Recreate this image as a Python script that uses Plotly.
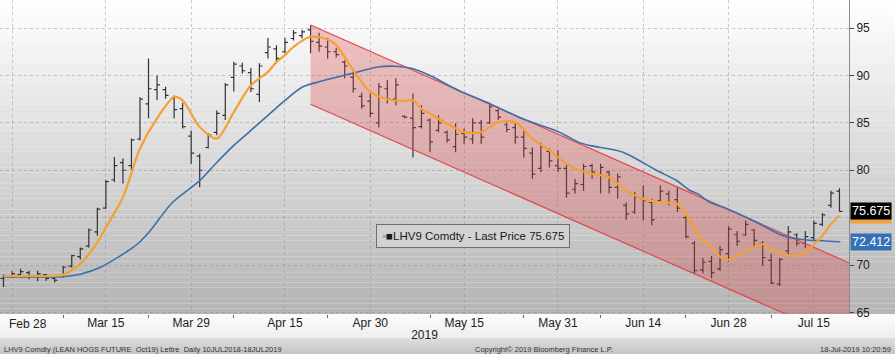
import plotly.graph_objects as go
import pandas as pd

# ---------------- data ----------------
HOLIDAYS = ["2019-04-19", "2019-05-27", "2019-07-04"]
dates = [d.strftime("%Y-%m-%d") for d in pd.bdate_range("2019-02-27", "2019-07-18")
         if d.strftime("%Y-%m-%d") not in HOLIDAYS]

open_ = [68.6, 68.8, 69.0, 69.2, 68.8, 69.0, 68.6, 68.8, 69.9, 70.9,
         72.0, 73.5, 76.0, 79.0, 80.8, 80.5, 83.3, 87.0, 88.5, 88.5,
         87.6, 86.5, 83.6, 81.5, 82.4, 84.0, 85.8, 89.8, 91.0, 90.3,
         88.0, 92.4, 92.8, 92.5, 93.9, 94.2, 94.8, 93.5, 93.0, 92.5,
         91.4, 89.8, 87.8, 87.3, 85.0, 88.6, 87.5, 85.7, 85.5, 84.6,
         85.3, 84.2, 84.0, 82.5, 83.9, 83.3, 85.0, 85.0, 86.3, 84.8,
         84.5, 83.5, 81.8, 80.2, 82.0, 80.5, 80.2, 78.0, 78.5, 80.5,
         79.5, 79.8, 78.2, 76.3, 75.6, 77.0, 76.6, 76.8, 77.5, 76.9,
         75.0, 72.3, 69.5, 70.4, 69.6, 71.2, 73.2, 73.2, 73.7, 72.3,
         70.5, 68.0, 71.5, 73.2, 72.3, 72.9, 74.3, 76.3, 77.8]
high = [69.0, 69.35, 69.6, 69.4, 69.4, 69.05, 68.75, 69.9, 71.1, 71.85,
        73.85, 76.05, 79.0, 81.4, 81.25, 83.35, 87.7, 91.8, 90.0, 88.8,
        87.9, 87.1, 84.2, 81.75, 83.9, 86.3, 89.2, 91.45, 91.35, 90.8,
        91.3, 93.95, 93.2, 93.95, 94.8, 94.8, 95.3, 94.5, 93.95, 92.9,
        91.6, 90.35, 88.2, 88.1, 89.2, 89.5, 89.7, 85.8, 88.1, 86.85,
        85.5, 85.8, 84.2, 84.95, 84.4, 85.5, 85.3, 87.05, 86.5, 85.05,
        85.05, 84.4, 82.4, 82.9, 82.3, 82.1, 80.7, 79.1, 80.7, 80.7,
        80.7, 79.95, 79.65, 76.6, 77.7, 78.4, 77.0, 78.4, 77.85, 78.2,
        75.2, 72.55, 70.75, 70.95, 72.0, 74.1, 73.6, 74.7, 73.8, 72.55,
        71.2, 70.75, 74.1, 73.35, 73.6, 74.7, 75.5, 77.85, 78.1]
low = [67.7, 68.7, 68.7, 68.5, 68.3, 68.35, 68.15, 68.7, 69.75, 70.6,
       71.85, 73.1, 75.95, 78.75, 78.6, 79.95, 83.15, 85.5, 87.4, 87.55,
       85.5, 84.4, 80.7, 78.2, 82.3, 83.7, 85.3, 88.3, 90.2, 88.25,
       87.2, 91.8, 91.3, 92.35, 93.7, 93.9, 92.35, 92.5, 91.8, 91.9,
       89.7, 88.2, 86.5, 85.6, 84.5, 87.05, 86.85, 85.5, 81.35, 84.4,
       81.9, 84.0, 82.9, 81.9, 82.8, 82.8, 82.8, 84.9, 85.3, 84.0,
       82.8, 81.35, 79.1, 79.8, 80.3, 79.8, 77.1, 77.55, 77.85, 79.1,
       77.55, 77.55, 77.0, 74.75, 75.4, 74.7, 74.2, 76.6, 76.3, 75.6,
       72.8, 69.05, 69.15, 68.6, 69.4, 70.35, 72.0, 73.1, 71.8, 69.9,
       68.0, 67.8, 71.15, 72.0, 71.8, 72.6, 74.1, 76.05, 75.65]
close = [68.8, 69.1, 69.3, 68.8, 69.1, 68.6, 68.4, 69.8, 71.0, 71.7,
         73.7, 75.9, 78.8, 80.5, 80.0, 83.2, 87.5, 88.6, 89.0, 87.9,
         86.4, 84.6, 81.8, 80.0, 83.7, 86.0, 89.0, 91.2, 90.5, 88.6,
         91.0, 93.0, 91.8, 93.5, 94.5, 94.6, 93.6, 93.1, 92.5, 92.2,
         91.0, 88.6, 86.8, 86.0, 88.8, 87.5, 89.0, 85.6, 84.5, 86.0,
         83.0, 85.0, 83.2, 83.8, 83.5, 85.0, 83.5, 86.7, 85.6, 84.3,
         83.5, 82.3, 79.6, 82.5, 81.0, 80.2, 77.6, 78.6, 80.4, 79.8,
         80.3, 78.2, 79.3, 75.4, 77.2, 76.8, 74.8, 77.8, 76.6, 76.0,
         73.0, 69.4, 70.3, 69.2, 71.6, 73.8, 72.5, 74.3, 72.6, 70.8,
         68.1, 70.6, 73.5, 72.3, 73.0, 74.4, 75.3, 77.6, 75.675]

# moving averages (trading-day position, value)
ma_fast_pos = [0, 3, 6, 7, 9, 11, 12, 14, 16, 18, 20, 21, 23, 25, 27, 29, 31, 32, 33, 34,
               36, 38, 39, 41, 43, 45, 47, 48, 49, 50, 52, 54, 56, 58, 60, 62, 64, 66, 67,
               69, 71, 73, 75, 77, 79, 80, 82, 83, 84, 85, 87, 89, 90, 92, 94, 95, 96, 97, 98]
ma_fast_val = [68.85, 68.85, 68.87, 68.97, 70.13, 72.39, 73.97, 77.15, 82.3, 85.48,
               87.73, 87.38, 84.56, 83.35, 86.14, 88.97, 90.38, 91.43, 92.14, 93.02,
               94.08, 93.8, 93.2, 90.56, 88.26, 87.49, 87.31, 87.38, 86.5, 85.97,
               84.92, 84.03, 84.03, 85.08, 85.08, 83.33, 82.09, 80.68, 80.15,
               79.62, 79.26, 77.86, 76.98, 76.62, 76.45, 75.39, 72.57, 72.0, 70.87,
               70.56, 71.51, 72.22, 71.69, 70.98, 71.33, 72.14, 73.1, 74.33, 75.21]
ma_slow_pos = [0, 3, 6.6, 9, 11.3, 15.2, 16, 17.2, 19.8, 23, 25, 27, 29, 31, 33, 35, 36.9,
               40.8, 43.9, 45.9, 47.9, 50, 53.3, 57.2, 61, 65, 67.4, 68.8, 72.6, 76.6,
               78.9, 80.5, 81.4, 82.8, 84.4, 88.3, 91.4, 94.2, 96.1, 98.1]
ma_slow_val = [68.76, 68.76, 68.76, 69.04, 69.74, 71.86, 72.46, 73.62, 76.6, 78.9,
               80.82, 82.62, 84.2, 85.8, 87.38, 88.76, 89.32, 90.21, 90.9, 90.98,
               90.74, 90.0, 88.44, 86.95, 85.37, 84.1, 82.97, 82.6, 81.91, 79.97,
               78.92, 77.86, 77.51, 76.62, 76.09, 74.5, 73.1, 72.64, 72.57, 72.46]

# downtrend channel (start at Apr 18 high)
channel_pos = [36, 100]
channel_upper = [95.32, 69.89]
channel_lower = [86.96, 61.53]

tick_dates = ["2019-02-28", "2019-03-15", "2019-03-29", "2019-04-15", "2019-04-30",
              "2019-05-15", "2019-05-31", "2019-06-14", "2019-06-28", "2019-07-15"]
tick_labels = ["Feb 28", "Mar 15", "Mar 29", "Apr 15", "Apr 30",
               "May 15", "May 31", "Jun 14", "Jun 28", "Jul 15"]
minor_dates = ["2019-03-08", "2019-03-22", "2019-04-05", "2019-04-23", "2019-05-09",
               "2019-05-24", "2019-06-07", "2019-06-21", "2019-07-08"]
y_ticks = [65, 70, 75, 80, 85, 90, 95]
y_ticktext = ["65", "70", "", "80", "85", "90", "95"]

last_price = 75.675
fast_last = 75.25
slow_last = 72.412

# ---------------- figure ----------------
x = list(range(len(dates)))
tickvals = [dates.index(d) for d in tick_dates]
minorvals = [dates.index(d) for d in minor_dates]

W, H = 895, 354
ML, MR, MT, MB = 0, 46, 0, 40
plot_w = W - ML - MR
plot_h = H - MT - MB

FONT = "Liberation Sans, Arial, sans-serif"

fig = go.Figure()

# channel fill
fig.add_trace(go.Scatter(
    x=[channel_pos[0], channel_pos[1], channel_pos[1], channel_pos[0], channel_pos[0]],
    y=[channel_upper[0], channel_upper[1], channel_lower[1], channel_lower[0], channel_upper[0]],
    fill="toself", fillcolor="rgba(218,64,64,0.30)", line=dict(width=0),
    mode="lines", hoverinfo="skip", showlegend=False))
for ys in (channel_upper, channel_lower):
    fig.add_trace(go.Scatter(x=channel_pos, y=ys, mode="lines",
                             line=dict(color="#e2474f", width=1.2),
                             hoverinfo="skip", showlegend=False))

# OHLC bars
fig.add_trace(go.Ohlc(
    x=x, open=open_, high=high, low=low, close=close,
    increasing=dict(line=dict(color="#333333", width=1.2)),
    decreasing=dict(line=dict(color="#333333", width=1.2)),
    tickwidth=0.35, showlegend=False, name="LHV9 Comdty"))

# moving averages
fig.add_trace(go.Scatter(x=ma_slow_pos, y=ma_slow_val, mode="lines",
                         line=dict(color="#3f6fa6", width=1.6, shape="spline", smoothing=0.8),
                         showlegend=False))
fig.add_trace(go.Scatter(x=ma_fast_pos, y=ma_fast_val, mode="lines",
                         line=dict(color="#f4a033", width=2.2, shape="spline", smoothing=0.8),
                         showlegend=False))

# background gradients (styling)
shapes = []
N = 60
x_full = W / plot_w
for k in range(N):
    t0, t1 = k / N, (k + 1) / N
    tm = (t0 + t1) / 2
    g = int(round(255 - (255 - 180) * tm))
    shapes.append(dict(type="rect", xref="paper", yref="paper", x0=0, x1=x_full,
                       y0=1 - t1, y1=1 - t0, fillcolor=f"rgb({g},{g},{g})",
                       line=dict(width=0), layer="below"))
band_top = 0.0
band_bot = -MB / plot_h
NB = 20
for k in range(NB):
    t0, t1 = k / NB, (k + 1) / NB
    tm = (t0 + t1) / 2
    if tm < 0.6:
        g = int(round(252 - 14 * (tm / 0.6)))
    else:
        g = int(round(222 - 26 * ((tm - 0.6) / 0.4)))
    shapes.append(dict(type="rect", xref="paper", yref="paper", x0=0, x1=x_full,
                       y0=band_top + (band_bot - band_top) * t1,
                       y1=band_top + (band_bot - band_top) * t0,
                       fillcolor=f"rgb({g},{g},{g})", line=dict(width=0), layer="below"))

annotations = []
annotations.append(dict(x=tickvals[0], y=0, xref="x", yref="paper", text=tick_labels[0],
                        xanchor="left", yanchor="top", xshift=-5, yshift=-1, showarrow=False,
                        font=dict(family=FONT, size=12, color="#222")))
annotations.append(dict(
    x=473.5 / plot_w, y=1 - 235.5 / plot_h, xref="paper", yref="paper",
    text="<span style='color:#a0a0a0'>▪</span>■LHV9 Comdty - Last Price 75.675",
    showarrow=False, xanchor="center", yanchor="middle",
    font=dict(family=FONT, size=11.5, color="#1a1a1a"),
    bgcolor="#d2d2d2", bordercolor="#6e6e6e", borderwidth=1, borderpad=5))
annotations.append(dict(x=1, y=fast_last, xref="paper", yref="y", text=f"{fast_last:.3f}",
                        showarrow=False, xanchor="left", yanchor="middle", xshift=1,
                        font=dict(family=FONT, size=12.5, color="#222"),
                        bgcolor="#f4a033", borderpad=1))
annotations.append(dict(x=1, y=last_price, xref="paper", yref="y", text=f"{last_price:.3f}",
                        showarrow=False, xanchor="left", yanchor="middle", xshift=1,
                        font=dict(family=FONT, size=12.5, color="#ffffff"),
                        bgcolor="#000000", borderpad=1))
annotations.append(dict(x=1, y=slow_last, xref="paper", yref="y", text=f"{slow_last:.3f}",
                        showarrow=False, xanchor="left", yanchor="middle", xshift=1,
                        font=dict(family=FONT, size=12.5, color="#ffffff"),
                        bgcolor="#3470b5", borderpad=1))
fy = -(349 - plot_h) / plot_h
annotations.append(dict(x=2 / plot_w, y=fy, xref="paper", yref="paper",
                        text="LHV9 Comdty (LEAN HOGS FUTURE  Oct19) Lettre  Daily 10JUL2018-18JUL2019",
                        showarrow=False, xanchor="left", yanchor="middle",
                        font=dict(family=FONT, size=7.5, color="#333")))
annotations.append(dict(x=473 / plot_w, y=fy, xref="paper", yref="paper",
                        text="Copyright© 2019 Bloomberg Finance L.P.",
                        showarrow=False, xanchor="left", yanchor="middle",
                        font=dict(family=FONT, size=7.5, color="#333")))
annotations.append(dict(x=893 / plot_w, y=fy, xref="paper", yref="paper",
                        text="18-Jul-2019 10:20:59",
                        showarrow=False, xanchor="right", yanchor="middle",
                        font=dict(family=FONT, size=7.5, color="#333")))

grid_col = "rgba(140,140,140,0.45)"
fig.update_layout(
    width=W, height=H, autosize=False,
    margin=dict(l=ML, r=MR, t=MT, b=MB),
    paper_bgcolor="#ffffff", plot_bgcolor="rgba(0,0,0,0)",
    shapes=shapes, annotations=annotations, showlegend=False,
    font=dict(family=FONT, size=12, color="#222"),
    xaxis=dict(
        range=[-0.41, 99.12], rangeslider=dict(visible=False),
        tickmode="array", tickvals=tickvals, ticktext=[""] + tick_labels[1:],
        ticks="", showgrid=True, gridcolor=grid_col, griddash="dot", gridwidth=1,
        tickfont=dict(family=FONT, size=12, color="#222"),
        showline=False, zeroline=False,
        minor=dict(tickmode="array", tickvals=minorvals, ticks="outside", ticklen=3,
                   tickcolor="#666", showgrid=False),
        title=dict(text="2019", font=dict(family=FONT, size=12, color="#222"), standoff=1),
    ),
    yaxis=dict(
        range=[64.84, 97.96], side="right", tickmode="array",
        tickvals=y_ticks, ticktext=y_ticktext,
        showgrid=True, gridcolor=grid_col, griddash="dot", gridwidth=1,
        showline=True, linecolor="#8a8a8a", linewidth=1,
        ticks="outside", ticklen=4, tickcolor="#444",
        tickfont=dict(family=FONT, size=12, color="#222"),
        zeroline=False,
    ),
)

fig.write_html("out.html")
